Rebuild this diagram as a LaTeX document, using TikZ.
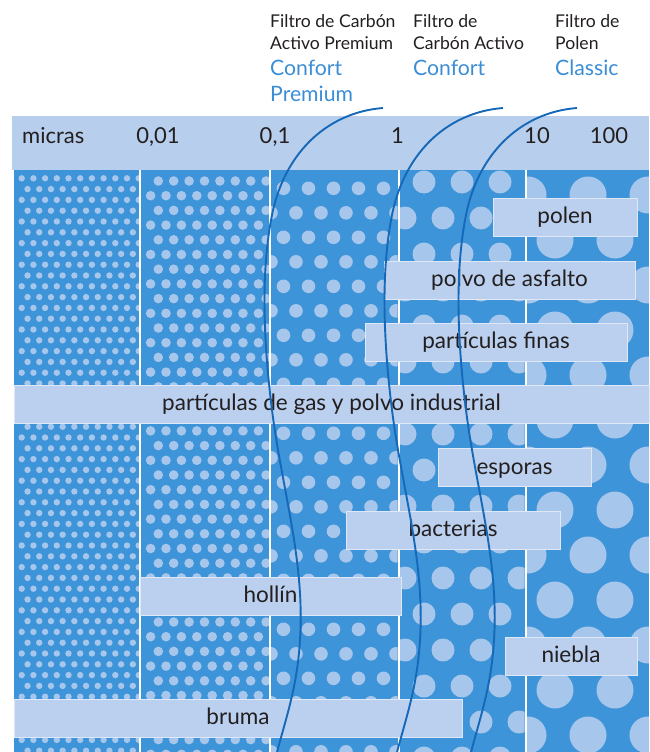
\documentclass[tikz,border=0pt]{standalone}
\usepackage{fontspec}
\setmainfont{Lato}
\definecolor{bgblue}{RGB}{62,148,216}
\definecolor{dotblue}{RGB}{166,198,236}
\definecolor{bandcol}{RGB}{183,206,236}
\definecolor{boxfill}{RGB}{186,208,238}
\definecolor{boxline}{RGB}{222,232,246}
\definecolor{curvecol}{RGB}{22,104,184}
\definecolor{textblue}{RGB}{59,141,214}
\definecolor{textdark}{RGB}{35,31,32}
\tikzset{
  lbl/.style={draw=boxline, line width=0.8pt, fill=boxfill, inner sep=0pt,
    minimum height=38pt, text height=16pt, text depth=3pt, text=textdark,
    font=\fontsize{22.5}{26}\selectfont},
  num/.style={inner sep=0pt, anchor=base, text=textdark, font=\fontsize{22}{26}\selectfont},
  hdr/.style={inner sep=0pt, anchor=base west, text=textdark, font=\fontsize{17.6}{20}\selectfont},
  hdrblue/.style={inner sep=0pt, anchor=base west, text=textblue, font=\fontsize{21.2}{24}\selectfont},
  sep/.style={draw=white, line width=2pt},
  fcurve/.style={draw=curvecol, line width=1.9pt},
  dot/.style={fill=dotblue}
}
\begin{document}
\begin{tikzpicture}[x=1pt,y=-1pt]
\useasboundingbox (0,0) rectangle (649,752);
% header band
\fill[bandcol] (12,116) rectangle (649,170);
% blue area
\fill[bgblue] (14,170) rectangle (649,752);
% column 1
\begin{scope}
\clip (14,170) rectangle (139,752);
\foreach \n in {0,...,53}{
  \pgfmathsetmacro\yy{178.3+10.8*\n}
  \pgfmathsetmacro\xo{mod(\n,2)*5.85}
  \foreach \k in {0,...,10}{
    \fill[dot] ({21.7+\xo+11.7*\k},\yy) circle[radius=3.2];
  }
}
\end{scope}
% column 2
\begin{scope}
\clip (141,170) rectangle (269,752);
\foreach \n in {0,...,39}{
  \pgfmathsetmacro\yy{181+14.7*\n}
  \pgfmathsetmacro\xo{-mod(\n,2)*7.7}
  \foreach \k in {0,...,8}{
    \fill[dot] ({158.3+\xo+15.4*\k},\yy) circle[radius=4.8];
  }
}
\end{scope}
% column 3
\begin{scope}
\clip (271,170) rectangle (397.5,752);
\foreach \n in {0,...,23}{
  \pgfmathsetmacro\yy{188.3+24.5*\n}
  \pgfmathsetmacro\xo{mod(\n,2)*12.5}
  \foreach \k in {-1,...,5}{
    \fill[dot] ({283.5+\xo+25*\k},\yy) circle[radius=6.8];
  }
}
\end{scope}
% column 4
\begin{scope}
\clip (399.5,170) rectangle (524.5,752);
\foreach \n in {-1,...,16}{
  \pgfmathsetmacro\yy{182+36*\n}
  \pgfmathsetmacro\xo{-mod(\n+2,2)*19}
  \foreach \k in {-1,...,4}{
    \fill[dot] ({424+\xo+38*\k},\yy) circle[radius=11.5];
  }
}
\end{scope}
% column 5
\begin{scope}
\clip (526.5,170) rectangle (649,752);
\foreach \n in {-8,...,6}{
  \pgfmathsetmacro\yy{510+45*\n}
  \pgfmathsetmacro\xo{-mod(\n+8,2)*27}
  \foreach \k in {-1,...,2}{
    \fill[dot] ({555+\xo+60*\k},\yy) circle[radius=18.5];
  }
}
\end{scope}
% separators
\foreach \sx in {140,270,398.5,525.5}{
  \draw[sep] (\sx,170) -- (\sx,752);
}
% header text
\node[hdr] (h1a) at (270,27.3) {Filtro de Carbón};
\node[hdr] (h1b) at (270,49.3) {Activo Premium};
\node[hdrblue] (h1c) at (270,75) {Confort};
\node[hdrblue] (h1d) at (270,101.7) {Premium};
\node[hdr] (h2a) at (413,27.3) {Filtro de};
\node[hdr] (h2b) at (413,49.3) {Carbón Activo};
\node[hdrblue] (h2c) at (413,75) {Confort};
\node[hdr] (h3a) at (555,27.3) {Filtro de};
\node[hdr] (h3b) at (555,49.3) {Polen};
\node[hdrblue] (h3c) at (555,75) {Classic};
% scale
\node[num, anchor=base west] (micras) at (22,143.3) {micras};
\node[num] (n1) at (158,143.3) {0,01};
\node[num] (n2) at (275,143.3) {0,1};
\node[num] (n3) at (397.5,143.3) {1};
\node[num] (n4) at (537,143.3) {10};
\node[num] (n5) at (609,143.3) {100};
% labels
\node[lbl, minimum width=144pt] (polen) at (565,217) {polen};
\node[lbl, minimum width=251pt] (asfalto) at (509.5,280) {polvo de asfalto};
\node[lbl, minimum width=262pt] (finas) at (496,342) {partículas finas};
\node[lbl, minimum width=635pt] (gas) at (331.5,404) {partículas de gas y polvo industrial};
\node[lbl, minimum width=153pt] (esporas) at (514.5,467.5) {esporas};
\node[lbl, minimum width=214pt] (bacterias) at (453,530) {bacterias};
\node[lbl, minimum width=261pt] (hollin) at (270.5,596) {hollín};
\node[lbl, minimum width=132pt] (niebla) at (571,656) {niebla};
\node[lbl, minimum width=448pt] (bruma) at (238,718) {bruma};
% filter curves
\begin{scope}
\clip (0,0) rectangle (649,752);
\foreach \s in {0,120,194}{
  \draw[fcurve, xshift=\s pt] (383,108)
    .. controls (330,112) and (285,150) .. (272,215)
    .. controls (262,265) and (262,330) .. (272,410)
    .. controls (282,490) and (305,560) .. (300,640)
    .. controls (297,690) and (285,720) .. (275,760);
}
\end{scope}
\end{tikzpicture}
\end{document}
